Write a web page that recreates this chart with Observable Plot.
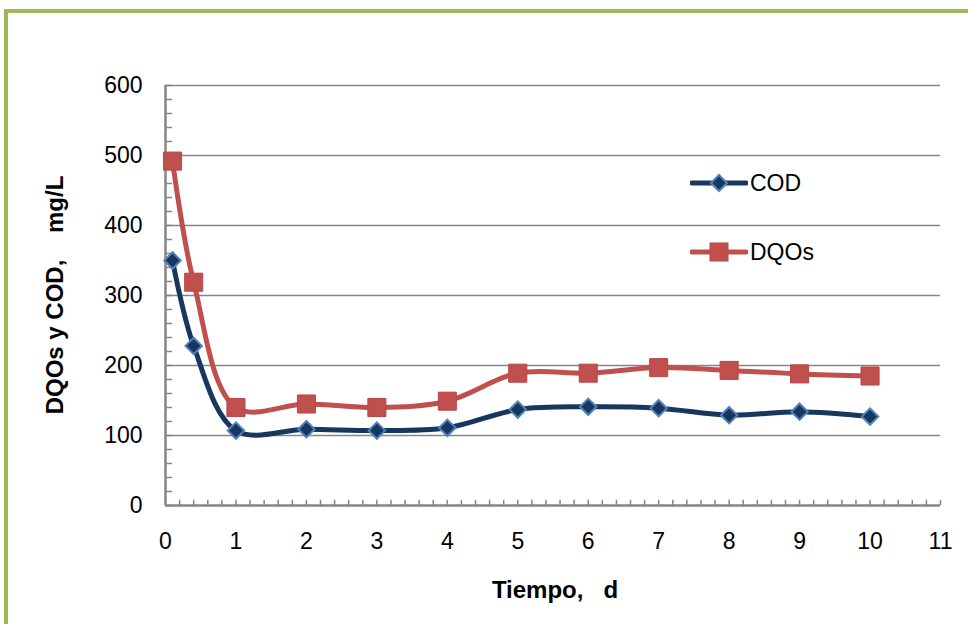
<!DOCTYPE html>
<html><head><meta charset="utf-8">
<script src="https://cdn.jsdelivr.net/npm/d3@7"></script>
<script src="https://cdn.jsdelivr.net/npm/@observablehq/plot@0.6"></script>
<style>
body{margin:0;background:#fff;}
#wrap{position:relative;width:968px;height:624px;overflow:hidden;background:#fff;font-family:"Liberation Sans",Arial,sans-serif;}
#frame{position:absolute;left:4px;top:9px;width:1200px;height:1200px;border:4px solid #9BBB59;box-sizing:border-box;}
#chart{position:absolute;left:0;top:0;}
.title{position:absolute;white-space:pre;font-weight:bold;font-size:24px;color:#000;}
.leg{position:absolute;display:flex;align-items:center;font-size:23px;color:#000;}
</style></head>
<body><div id="wrap"><div id="frame"></div><div id="chart"></div>
<div class="title" id="xt" style="left:0;width:1110px;text-align:center;top:576px;">Tiempo,   d</div>
<div class="title" id="yt" style="left:55px;top:295px;transform:translate(-50%,-50%) rotate(-90deg);">DQOs y COD,    mg/L</div>
<div class="leg" style="left:690px;top:168px;"><svg width="58" height="30"><line x1="2" y1="15" x2="56" y2="15" stroke="#17375E" stroke-width="5" stroke-linecap="round"/><path d="M29,7 L37,15 L29,23 L21,15Z" fill="#17375E" stroke="#4F81BD" stroke-width="2"/></svg><span style="margin-left:2px">COD</span></div>
<div class="leg" style="left:690px;top:237px;"><svg width="58" height="30"><line x1="2" y1="15" x2="56" y2="15" stroke="#C0504D" stroke-width="5" stroke-linecap="round"/><rect x="20" y="6" width="18" height="18" fill="#C0504D" stroke="#B9474A" stroke-width="1"/></svg><span style="margin-left:2px">DQOs</span></div>
</div>
<script>
const days = [0.1, 0.4, 1, 2, 3, 4, 5, 6, 7, 8, 9, 10];
const cod  = [350, 228, 107, 109, 107, 111, 137, 141, 139, 129, 134, 127];
const dqos = [492, 319, 140, 145, 140, 149, 189, 189, 197, 193, 188, 185];
const xTicks = [0,1,2,3,4,5,6,7,8,9,10,11];
const yTicks = [0,100,200,300,400,500,600];
const xMinor = d3.range(0, 56).map(i => i / 5);
const yMinor = d3.range(0, 31).map(i => i * 20);

const codRows = days.map((d, i) => ({day: d, v: cod[i]}));
const dqoRows = days.map((d, i) => ({day: d, v: dqos[i]}));

const chart = Plot.plot({
  width: 968, height: 624,
  marginLeft: 165, marginRight: 28, marginTop: 85, marginBottom: 119,
  style: {fontFamily: '"Liberation Sans", Arial, sans-serif', fontSize: "23px", color: "#000", background: "transparent"},
  x: {domain: [0, 11]},
  y: {domain: [0, 600]},
  marks: [
    Plot.ruleY(yTicks.slice(1), {stroke: "#868686", strokeWidth: 1.5}),
    Plot.ruleX(xMinor, {x: d => d, y1: 0, y2: 7.5, stroke: "#868686", strokeWidth: 1.5}),
    Plot.ruleY(yMinor, {y: d => d, x1: 0, x2: 0.1, stroke: "#868686", strokeWidth: 1.5}),
    Plot.ruleY([0], {stroke: "#868686", strokeWidth: 2.5}),
    Plot.ruleX([0], {stroke: "#868686", strokeWidth: 2.5}),
    Plot.axisX({ticks: xTicks, tickSize: 0, tickPadding: 27, label: null, fontSize: 23}),
    Plot.axisY({ticks: yTicks, tickSize: 0, tickPadding: 23, label: null, fontSize: 23}),
    Plot.line(codRows, {x: "day", y: "v", stroke: "#17375E", strokeWidth: 5, curve: "catmull-rom"}),
    Plot.line(dqoRows, {x: "day", y: "v", stroke: "#C0504D", strokeWidth: 5, curve: "catmull-rom"}),
    Plot.dot(codRows, {x: "day", y: "v", symbol: "diamond2", r: 7.4, fill: "#17375E", stroke: "#4F81BD", strokeWidth: 2}),
    Plot.dot(dqoRows, {x: "day", y: "v", symbol: "square2", r: 11.5, fill: "#C0504D", stroke: "#B9474A", strokeWidth: 1})
  ]
});
document.getElementById("chart").appendChild(chart);
</script>
</body></html>
